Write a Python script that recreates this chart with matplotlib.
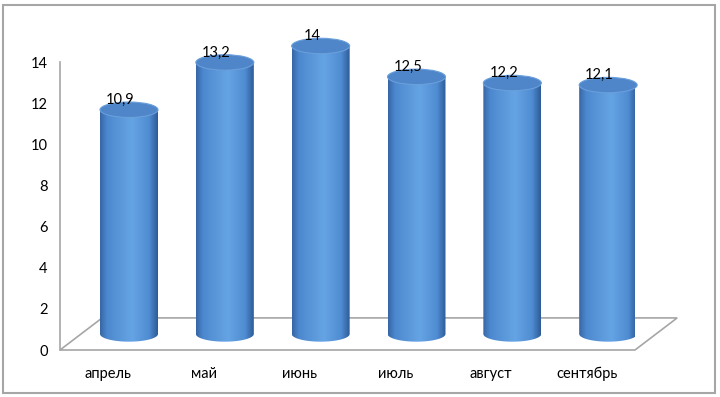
import numpy as np
import matplotlib.pyplot as plt
from matplotlib.patches import Ellipse, Polygon, PathPatch, Rectangle
from matplotlib.path import Path
from matplotlib.colors import to_rgb

months = ['апрель', 'май', 'июнь', 'июль', 'август', 'сентябрь']
values = [10.9, 13.2, 14, 12.5, 12.2, 12.1]
value_labels = ['10,9', '13,2', '14', '12,5', '12,2', '12,1']

plt.rcParams['font.family'] = ['Lato', 'DejaVu Sans']

fig = plt.figure(figsize=(7.2, 3.97), dpi=100)
ax = fig.add_axes([60/720, 47/397, 575/720, 16.5*20.57/397])
ax.set_xlim(-0.5, 5.5)
ax.set_ylim(0, 16.5)

# depth of the 3d floor, in data units
depth_x, depth_y = 0.44, 1.56
half_x, half_y = depth_x/2, depth_y/2
cyl_w = 0.605
ell_h = 0.75

# floor
floor = Polygon([(-0.5, 0), (5.5, 0), (5.5+depth_x, depth_y), (-0.5+depth_x, depth_y)],
                closed=True, facecolor='none', edgecolor='#A6A6A6', lw=1.2,
                clip_on=False, zorder=1)
ax.add_patch(floor)

# horizontal shading of the cylinder body
stops = [0, 0.12, 0.55, 0.85, 1]
cols = ['#3766A6', '#4C88CE', '#65A4E4', '#4F8CD2', '#2E5B97']
t = np.linspace(0, 1, 128)
rgb = np.array([to_rgb(c) for c in cols])
grad = np.stack([np.interp(t, stops, rgb[:, k]) for k in range(3)], axis=-1)[None, :, :]

for i, v in enumerate(values):
    cx = i + half_x
    y0 = half_y
    y1 = v + half_y
    a = cyl_w/2
    b = ell_h/2
    th = np.linspace(np.pi, 2*np.pi, 60)
    pts = [(cx + a*np.cos(q), y0 + b*np.sin(q)) for q in th]
    pts += [(cx + a, y1), (cx - a, y1), pts[0]]
    body = Path(pts, closed=True)
    clip = PathPatch(body, transform=ax.transData, facecolor='none', edgecolor='none')
    ax.add_patch(clip)
    im = ax.imshow(grad, extent=(cx - a, cx + a, y0 - b, y1), aspect='auto',
                   interpolation='bilinear', zorder=2)
    im.set_clip_path(clip)
    top = Ellipse((cx, y1), cyl_w, ell_h, facecolor='#4E86C9', edgecolor='#6A9FDB',
                  lw=0.8, zorder=3, clip_on=False)
    ax.add_patch(top)
    ax.text(cx - 0.09, y1 + b + 0.1, value_labels[i], ha='center', va='center',
            fontsize=10.5, color='black', zorder=4)

ax.set_xlim(-0.5, 5.5)
ax.set_ylim(0, 16.5)

for s in ['top', 'right', 'bottom']:
    ax.spines[s].set_visible(False)
ax.spines['left'].set_bounds(0, 14)
ax.spines['left'].set_color('#A6A6A6')
ax.spines['left'].set_linewidth(1.2)

ax.set_yticks(range(0, 15, 2))
ax.set_xticks(range(len(months)))
ax.set_xticklabels(months)
ax.tick_params(axis='y', length=0, pad=9, labelsize=10.5)
ax.tick_params(axis='x', length=0, pad=12, labelsize=10.5)
ax.patch.set_visible(False)

fig.patches.append(Rectangle((3/720, 4/397), 712/720, 388/397, transform=fig.transFigure,
                             fill=False, edgecolor='#A6A6A6', lw=1.5))

fig.savefig('out.png', dpi=100)
